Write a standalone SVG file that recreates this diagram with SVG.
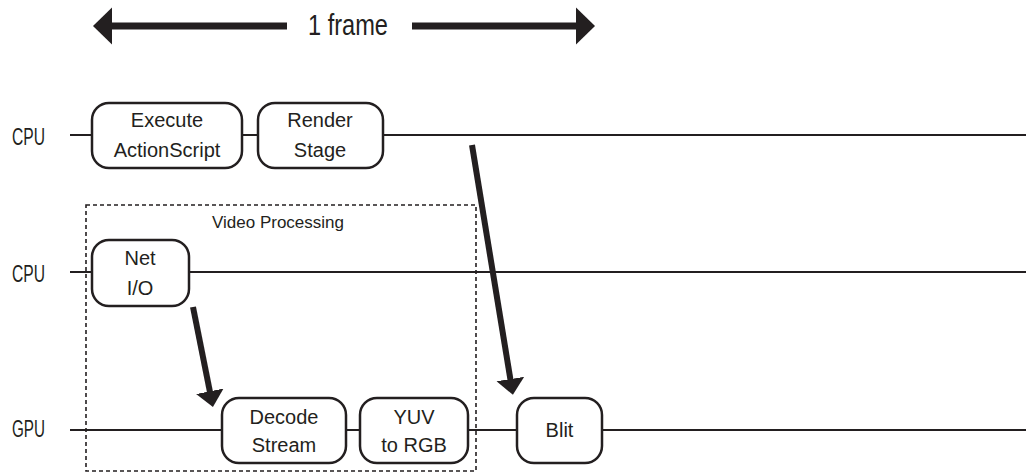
<svg xmlns="http://www.w3.org/2000/svg" width="1026" height="474" viewBox="0 0 1026 474">
<style>
  .tl { stroke: #231f20; stroke-width: 2; fill: none; }
  .box { fill: #ffffff; stroke: #231f20; stroke-width: 2.5; }
  .txt { font-family: "Liberation Sans", Arial, sans-serif; font-size: 20px; fill: #231f20; text-anchor: middle; }
  .lbl { font-family: "Liberation Sans", Arial, sans-serif; font-size: 23px; fill: #231f20; }
  .dash { fill: none; stroke: #231f20; stroke-width: 1.6; stroke-dasharray: 4 3; }
  .arr { stroke: #231f20; stroke-width: 6; fill: none; }
  .big { stroke: #231f20; stroke-width: 7; fill: none; }
</style>
<defs>
  <marker id="head" markerUnits="userSpaceOnUse" viewBox="0 -15 17 30" refX="4" refY="0" markerWidth="17" markerHeight="30" orient="auto">
    <path d="M0,-14 L16,0 L0,14 Z" fill="#231f20"/>
  </marker>
  <marker id="bighead" markerUnits="userSpaceOnUse" viewBox="0 -19 20 38" refX="4" refY="0" markerWidth="20" markerHeight="38" orient="auto">
    <path d="M0,-18.5 L19,0 L0,18.5 Z" fill="#231f20"/>
  </marker>
</defs>

<g id="frame-span">
  <path class="big" d="M287,26 L108,26" marker-end="url(#bighead)"/>
  <path class="big" d="M412,26 L580,26" marker-end="url(#bighead)"/>
  <text x="308" y="35" font-family="Liberation Sans, Arial, sans-serif" font-size="30" fill="#231f20" textLength="80" lengthAdjust="spacingAndGlyphs">1 frame</text>
</g>

<g id="timelines">
  <text class="lbl" x="12" y="145" textLength="33" lengthAdjust="spacingAndGlyphs">CPU</text>
  <text class="lbl" x="12" y="282" textLength="33" lengthAdjust="spacingAndGlyphs">CPU</text>
  <text class="lbl" x="12" y="437" textLength="33" lengthAdjust="spacingAndGlyphs">GPU</text>
  <line class="tl" x1="70" y1="135" x2="1026" y2="135"/>
  <line class="tl" x1="70" y1="272" x2="1026" y2="272"/>
  <line class="tl" x1="70" y1="430" x2="1026" y2="430"/>
</g>

<g id="video-processing">
  <rect class="dash" x="86" y="205" width="390" height="266"/>
  <text class="txt" x="278" y="228" style="font-size:17px">Video Processing</text>
</g>

<g id="execute-actionscript">
  <rect class="box" x="92" y="103" width="150" height="65" rx="17"/>
  <text class="txt" x="167" y="127">Execute</text>
  <text class="txt" x="167" y="157">ActionScript</text>
</g>
<g id="render-stage">
  <rect class="box" x="258" y="103" width="125" height="65" rx="17"/>
  <text class="txt" x="320" y="127">Render</text>
  <text class="txt" x="320" y="157">Stage</text>
</g>
<g id="net-io">
  <rect class="box" x="92" y="240" width="97" height="66" rx="17"/>
  <text class="txt" x="140" y="265">Net</text>
  <text class="txt" x="140" y="295">I/O</text>
</g>
<g id="decode-stream">
  <rect class="box" x="222" y="398" width="124" height="65" rx="17"/>
  <text class="txt" x="284" y="424">Decode</text>
  <text class="txt" x="284" y="452">Stream</text>
</g>
<g id="yuv-to-rgb">
  <rect class="box" x="360" y="398" width="108" height="65" rx="17"/>
  <text class="txt" x="414" y="424">YUV</text>
  <text class="txt" x="414" y="452">to RGB</text>
</g>
<g id="blit">
  <rect class="box" x="517" y="398" width="85" height="65" rx="17"/>
  <text class="txt" x="559.5" y="437">Blit</text>
</g>

<g id="connectors">
  <path class="arr" d="M472,145 L511,383" marker-end="url(#head)"/>
  <path class="arr" d="M193,307 L210.6,395.2" marker-end="url(#head)"/>
</g>
</svg>
